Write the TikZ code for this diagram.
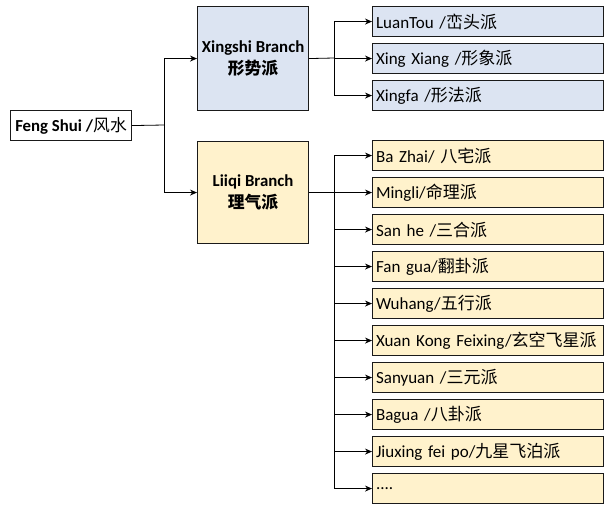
\documentclass[tikz,border=0pt]{standalone}
\usepackage{fontspec}
\setmainfont{Carlito}
\newfontfamily\cjk{Noto Sans CJK SC}
\usetikzlibrary{arrows.meta}
\newcommand\zh[1]{{\cjk #1}}
\definecolor{bluefill}{HTML}{DCE4F2}
\definecolor{yelfill}{HTML}{FFF2CC}
\definecolor{edge}{HTML}{1A1A1A}
\tikzset{
  box/.style={draw=edge, line width=1.1pt, inner sep=0pt, minimum height=30pt},
  leaf/.style={box, anchor=north west, text width=224pt, inner xsep=3.5pt, align=left, font=\fontsize{17}{19}\selectfont},
  bleaf/.style={leaf, fill=bluefill},
  yleaf/.style={leaf, fill=yelfill},
  branch/.style={box, anchor=north west, minimum width=111pt, minimum height=104pt, align=center, font=\fontsize{16.8}{22}\selectfont\bfseries},
  conn/.style={line width=0.8pt, black},
  arr/.style={conn, -{Stealth[length=7pt, width=6pt]}}
}
\begin{document}
\begin{tikzpicture}[x=1pt, y=-1pt]
\useasboundingbox (0,0) rectangle (610,507);
% root
\node[box, anchor=north west, minimum width=121pt, inner xsep=4pt, font=\fontsize{16.8}{19}\selectfont] (fs) at (10,110) {\textbf{Feng Shui /}\zh{风水}};
% branches
\node[branch, fill=bluefill] (xs) at (197,6) {Xingshi Branch\\\zh{形势派}};
\node[branch, fill=yelfill, minimum height=102pt] (lq) at (197,141) {Liiqi Branch\\\zh{理气派}};
% Xingshi leaves
\node[bleaf] (x1) at (372,6) {LuanTou /\zh{峦头派}};
\node[bleaf] (x2) at (372,43) {Xing Xiang /\zh{形象派}};
\node[bleaf] (x3) at (372,80) {Xingfa /\zh{形法派}};
% Liiqi leaves
\node[yleaf] (l1) at (372,140) {Ba Zhai/ \zh{八宅派}};
\node[yleaf] (l2) at (372,177) {Mingli/\zh{命理派}};
\node[yleaf] (l3) at (372,214) {San he /\zh{三合派}};
\node[yleaf] (l4) at (372,251) {Fan gua/\zh{翻卦派}};
\node[yleaf] (l5) at (372,288) {Wuhang/\zh{五行派}};
\node[yleaf] (l6) at (372,325) {Xuan Kong Feixing/\zh{玄空飞星派}};
\node[yleaf] (l7) at (372,362) {Sanyuan /\zh{三元派}};
\node[yleaf] (l8) at (372,399) {Bagua /\zh{八卦派}};
\node[yleaf] (l9) at (372,436) {Jiuxing fei po/\zh{九星飞泊派}};
\node[yleaf] (l10) at (372,473) {....};
% junctions
\coordinate (j0) at (164,125);
\coordinate (j1) at (334,58);
\coordinate (j2) at (334,192);
% connectors
\draw[conn] (fs.east) -- (j0);
\draw[arr] (j0) |- (xs.west);
\draw[arr] (j0) |- (lq.west);
\draw[conn] (xs.east) -- (j1);
\foreach \n in {x1,x2,x3} \draw[arr] (j1) |- (\n.west);
\draw[conn] (lq.east |- j2) -- (j2);
\foreach \n in {l1,l2,l3,l4,l5,l6,l7,l8,l9,l10} \draw[arr] (j2) |- (\n.west);
\end{tikzpicture}
\end{document}
